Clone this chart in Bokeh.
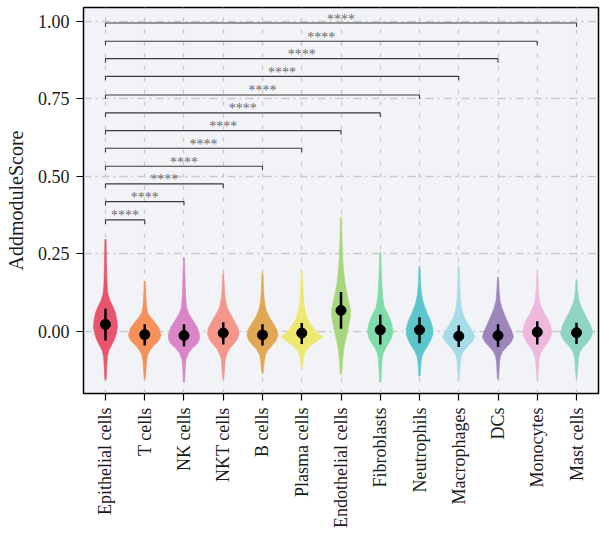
import numpy as np
from bokeh.plotting import figure
from bokeh.models import Range1d, FixedTicker, NumeralTickFormatter
from bokeh.embed import file_html
from bokeh.resources import INLINE
from bokeh.core.properties import value

categories = ["Epithelial cells", "T cells", "NK cells", "NKT cells", "B cells",
              "Plasma cells", "Endothelial cells", "Fibroblasts", "Neutrophils",
              "Macrophages", "DCs", "Monocytes", "Mast cells"]
colors = ["#E8546C", "#F5915A", "#D985C8", "#F5968A", "#E0A854", "#EDE870",
          "#A9D67C", "#7FDBAA", "#5BC6CB", "#A6DCE7", "#9D86BE", "#EEB8DD", "#8ED4C5"]

means = [0.023, -0.010, -0.013, -0.005, -0.011, -0.005, 0.068, 0.005, 0.005,
         -0.015, -0.013, -0.002, -0.004]
err_hi = [0.073, 0.023, 0.023, 0.030, 0.023, 0.027, 0.127, 0.054, 0.046,
          0.019, 0.023, 0.033, 0.028]
err_lo = [-0.029, -0.045, -0.048, -0.042, -0.045, -0.040, 0.009, -0.042, -0.038,
          -0.050, -0.050, -0.042, -0.040]

# violin density profiles (score level, density)
profile_y = [
    [0.297, 0.22, 0.15, 0.12, 0.10, 0.08, 0.06, 0.035, 0.015, -0.005, -0.025, -0.045, -0.06, -0.08, -0.11, -0.155],
    [0.162, 0.12, 0.08, 0.06, 0.045, 0.03, 0.01, -0.013, -0.03, -0.045, -0.06, -0.075, -0.095, -0.152],
    [0.238, 0.18, 0.12, 0.08, 0.06, 0.04, 0.015, -0.01, -0.025, -0.04, -0.055, -0.07, -0.09, -0.12, -0.164],
    [0.187, 0.15, 0.11, 0.08, 0.06, 0.035, 0.01, -0.008, -0.025, -0.04, -0.055, -0.07, -0.09, -0.152],
    [0.188, 0.14, 0.10, 0.07, 0.045, 0.025, 0.005, -0.013, -0.03, -0.045, -0.06, -0.075, -0.095, -0.135],
    [0.195, 0.15, 0.10, 0.07, 0.04, 0.02, 0.0, -0.018, -0.03, -0.045, -0.06, -0.075, -0.095, -0.115],
    [0.369, 0.30, 0.24, 0.20, 0.16, 0.13, 0.10, 0.07, 0.05, 0.025, 0.0, -0.02, -0.05, -0.08, -0.139],
    [0.256, 0.20, 0.15, 0.11, 0.08, 0.05, 0.025, 0.0, -0.02, -0.04, -0.055, -0.07, -0.09, -0.163],
    [0.21, 0.16, 0.12, 0.09, 0.06, 0.035, 0.01, -0.01, -0.03, -0.05, -0.065, -0.08, -0.10, -0.144],
    [0.21, 0.15, 0.10, 0.07, 0.045, 0.025, 0.005, -0.018, -0.035, -0.05, -0.065, -0.08, -0.10, -0.147],
    [0.175, 0.14, 0.10, 0.075, 0.05, 0.025, 0.0, -0.018, -0.035, -0.05, -0.065, -0.08, -0.10, -0.153],
    [0.186, 0.14, 0.10, 0.08, 0.06, 0.04, 0.02, -0.005, -0.025, -0.04, -0.055, -0.07, -0.09, -0.147],
    [0.167, 0.13, 0.10, 0.07, 0.045, 0.02, -0.005, -0.025, -0.04, -0.055, -0.07, -0.09, -0.147],
]
profile_d = [
    [0.6, 1.0, 1.6, 2.5, 4.5, 7.5, 10, 11.5, 12, 11, 9, 6, 3.5, 2, 1.3, 0.6],
    [0.5, 1.0, 1.8, 3, 6, 10, 14.5, 16.3, 14, 9, 5.5, 3, 1.8, 0.6],
    [0.5, 1.0, 1.6, 2.5, 4.5, 8, 13, 15.5, 15.5, 13, 8, 4.5, 2, 1.2, 0.6],
    [0.5, 1.0, 1.8, 3.5, 6.5, 11, 15, 15.8, 14, 10.5, 6.5, 4, 2, 0.6],
    [0.5, 1.0, 1.8, 3.5, 7, 11, 14.5, 15.5, 13.5, 9.5, 5.5, 3, 1.8, 0.6],
    [0.5, 1.0, 1.8, 3, 6, 9.5, 14.5, 20.8, 16, 9, 4.5, 2.5, 1.4, 0.6],
    [0.5, 1.0, 1.6, 2.5, 3.8, 5.5, 7.5, 9.3, 9.5, 8, 6.5, 5, 3, 2, 0.6],
    [0.5, 1.0, 1.6, 2.5, 4, 8.5, 11.5, 12.8, 11.5, 8, 5, 3, 1.8, 0.6],
    [0.5, 1.0, 2, 4, 7.5, 11, 13.3, 13.3, 11, 7.5, 4.5, 2.5, 1.5, 0.6],
    [0.5, 1.0, 1.8, 3, 5.5, 9, 13, 16.3, 13, 8.5, 4.5, 2.5, 1.5, 0.6],
    [0.5, 1.0, 2, 4, 7, 10.5, 14, 15.5, 13, 8.5, 4.5, 2.5, 1.5, 0.6],
    [0.5, 1.0, 2, 4, 7, 10.5, 13.5, 14.5, 12.5, 9.5, 6, 3.5, 1.8, 0.6],
    [0.5, 1.2, 2.5, 6, 10, 14, 16.2, 13.5, 9.5, 5.5, 3, 1.8, 0.6],
]

# significance brackets: Epithelial cells vs each other group
bracket_y = [0.360, 0.419, 0.476, 0.533, 0.591, 0.648, 0.705, 0.763, 0.823, 0.880, 0.936, 0.995]
bracket_labels = ["****"] * 12

y_ticks = [0.0, 0.25, 0.5, 0.75, 1.0]

FONT = "Liberation Serif"
WIDTH_SCALE = 1 / 39.25
TICK_DROP = 0.013

p = figure(width=600, height=533,
           x_range=Range1d(-0.56, 12.56), y_range=Range1d(-0.2, 1.045),
           output_backend="svg", toolbar_location=None,
           min_border_left=83, min_border_right=2, min_border_top=7, min_border_bottom=140)

p.background_fill_color = "#F2F3F7"
p.border_fill_color = "white"
p.outline_line_color = "black"
p.outline_line_width = 1.5

idx = list(range(len(categories)))

# axes
p.xaxis.ticker = FixedTicker(ticks=idx)
p.xaxis.major_label_overrides = {i: c for i, c in enumerate(categories)}
p.xaxis.major_label_orientation = np.pi / 2
p.yaxis.ticker = FixedTicker(ticks=y_ticks)
p.yaxis.formatter = NumeralTickFormatter(format="0.00")
p.yaxis.axis_label = "AddmoduleScore"
for ax in (p.xaxis, p.yaxis):
    ax.axis_line_color = None
    ax.major_tick_in = 0
    ax.major_tick_out = 7
    ax.major_tick_line_width = 1.2
    ax.major_tick_line_color = "black"
    ax.minor_tick_line_color = None
    ax.major_label_text_font = FONT
    ax.major_label_text_font_size = "18px"
    ax.major_label_text_color = "#1a1a1a"
    ax.major_label_standoff = 7
p.yaxis.axis_label_text_font = FONT
p.yaxis.axis_label_text_font_size = "20px"
p.yaxis.axis_label_text_font_style = "normal"
p.yaxis.axis_label_text_color = "#1a1a1a"
p.yaxis.axis_label_standoff = 8

# grid
p.xgrid.grid_line_color = "#C9C9C9"
p.xgrid.grid_line_dash = "4 8"
p.xgrid.grid_line_width = 1.3
p.ygrid.grid_line_color = "#C9C9C9"
p.ygrid.grid_line_dash = "8 4 2 4"
p.ygrid.grid_line_width = 1.3

# violins
xs, ys = [], []
for i in idx:
    yv = np.array(profile_y[i])
    hw = np.array(profile_d[i]) * WIDTH_SCALE
    xs.append(list(np.concatenate([i + hw, (i - hw)[::-1]])))
    ys.append(list(np.concatenate([yv, yv[::-1]])))
p.patches(xs, ys, fill_color=colors, line_color=colors, line_width=0.6)

# mean +/- sd
p.segment(x0=idx, y0=err_lo, x1=idx, y1=err_hi, line_color="black", line_width=2.5)
p.scatter(idx, means, size=10, color="black")

# brackets
bx, by = [], []
for j, yb in enumerate(bracket_y, start=1):
    bx.append([0, 0, j, j])
    by.append([yb - TICK_DROP, yb, yb, yb - TICK_DROP])
p.multi_line(bx, by, line_color="#3a3a3a", line_width=1.1)
p.text(x=[j / 2 for j in range(1, 13)], y=bracket_y, text=bracket_labels,
       text_font=value(FONT), text_font_size="14px", text_align="center",
       text_baseline="alphabetic", y_offset=-4, text_color="#6a6a6a")

open("out.html", "w").write(file_html(p, INLINE))
